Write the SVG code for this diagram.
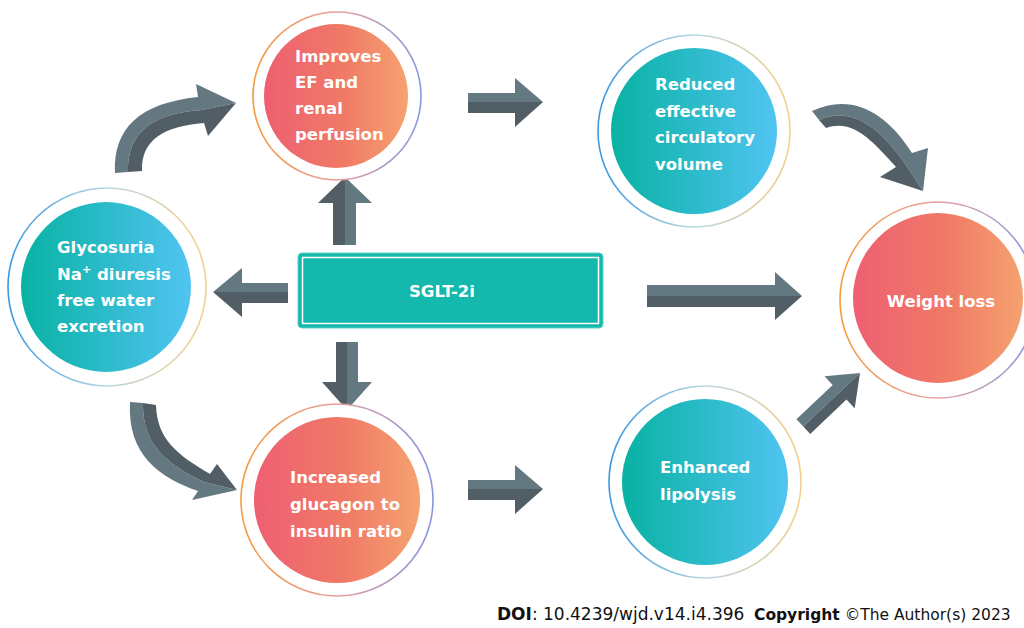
<svg xmlns="http://www.w3.org/2000/svg" width="1024" height="628" viewBox="0 0 1024 628">
<defs>
<linearGradient id="gRed" x1="0" y1="0" x2="1" y2="0"><stop offset="0" stop-color="#ee5f72"/><stop offset="0.55" stop-color="#f07a66"/><stop offset="1" stop-color="#f5a270"/></linearGradient>
<linearGradient id="gTeal" x1="0" y1="0" x2="1" y2="0"><stop offset="0" stop-color="#08b2a2"/><stop offset="1" stop-color="#50c4f2"/></linearGradient>
<linearGradient id="rRed" x1="0" y1="0" x2="1" y2="0"><stop offset="0" stop-color="#f59a3c"/><stop offset="0.5" stop-color="#e8a0a0"/><stop offset="1" stop-color="#8896e0"/></linearGradient>
<linearGradient id="rTeal" x1="0" y1="0" x2="1" y2="0"><stop offset="0" stop-color="#3c98e0"/><stop offset="0.5" stop-color="#b8d8e0"/><stop offset="1" stop-color="#f6cf8a"/></linearGradient>
<style>
.ringR{fill:#fff;stroke:url(#rRed);stroke-width:1.6}
.ringT{fill:#fff;stroke:url(#rTeal);stroke-width:1.6}
.fillR{fill:url(#gRed)}
.fillT{fill:url(#gTeal)}
.lbl{font-family:"DejaVu Sans",Verdana,sans-serif;font-weight:bold;font-size:16.5px;fill:#fff}
.lt{fill:#637880}
.dk{fill:#515e65}
.doi{font-family:"DejaVu Sans",Verdana,sans-serif;font-size:17px;fill:#111}
</style>
</defs>
<rect width="1024" height="628" fill="#fff"/>

<g id="connectors">
  <path class="lt" d="M115,173 C113,128 140,103 198,97 L196,84 L236,103 L202,110 C152,113 127,133 128,172 Z"/>
  <path class="dk" d="M128,172 C127,133 152,113 202,110 L236,103 L208,136 L204,123 C164,126 141,140 142,171 Z"/>
  <path class="lt" d="M130,402 C127,455 160,478 198,491 L192,500 L237,490 L204,482 C168,465 142,445 143,403 Z"/>
  <path class="dk" d="M143,403 C142,445 168,465 204,482 L237,490 L217,464 L210,474 C178,455 157,440 156,405 Z"/>
  <path class="lt" d="M812,111 C850,93 885,110 912,153 L928,148 L923,191 L904,162 C878,125 850,106 819,120 Z"/>
  <path class="dk" d="M819,120 C850,106 878,125 904,162 L923,191 L880,177 L896,167 C870,138 852,119 826,128 Z"/>
  <path class="lt" d="M468,93 L515,93 L515,78 L543,102 L468,102 Z"/>
  <path class="dk" d="M468,102 L543,102 L515,127 L515,113 L468,113 Z"/>
  <path class="lt" d="M468,480 L515,480 L515,465 L543,489 L468,489 Z"/>
  <path class="dk" d="M468,489 L543,489 L515,514 L515,500 L468,500 Z"/>
  <path class="dk" d="M333,245 L333,203 L318,203 L345,177 L345,245 Z"/>
  <path class="lt" d="M345,245 L345,177 L372,203 L356,203 L356,245 Z"/>
  <path class="lt" d="M288,283 L242,283 L242,268 L213,292 L288,292 Z"/>
  <path class="dk" d="M288,292 L213,292 L242,317 L242,303 L288,303 Z"/>
  <path class="dk" d="M336,342 L336,382 L322,382 L347,410 L347,342 Z"/>
  <path class="lt" d="M347,342 L347,410 L372,382 L358,382 L358,342 Z"/>
  <path class="lt" d="M647,285 L775,285 L775,272 L802,296 L647,296 Z"/>
  <path class="dk" d="M647,296 L802,296 L775,320 L775,307 L647,307 Z"/>
  <path class="lt" d="M796.4,419.3 L832.7,384.9 L824.5,376.2 L860,373 L803.3,426.6 Z"/>
  <path class="dk" d="M803.3,426.6 L860,373 L854.7,408.2 L846.5,399.5 L810.2,433.9 Z"/>
</g>

<g id="node-improves">
  <circle class="ringR" cx="337" cy="96" r="84"/>
  <circle class="fillR" cx="336" cy="96" r="72"/>
  <text class="lbl"><tspan x="295" y="62">Improves</tspan><tspan x="295" y="88">EF and</tspan><tspan x="295" y="114">renal</tspan><tspan x="295" y="140">perfusion</tspan></text>
</g>

<g id="node-reduced">
  <circle class="ringT" cx="694" cy="131" r="96"/>
  <circle class="fillT" cx="694" cy="131" r="83"/>
  <text class="lbl"><tspan x="655" y="90">Reduced</tspan><tspan x="655" y="117">effective</tspan><tspan x="655" y="143">circulatory</tspan><tspan x="655" y="170">volume</tspan></text>
</g>

<g id="node-glycosuria">
  <circle class="ringT" cx="107" cy="287" r="99"/>
  <circle class="fillT" cx="106" cy="287" r="85"/>
  <text class="lbl"><tspan x="57" y="253">Glycosuria</tspan><tspan x="57" y="280">Na<tspan font-size="11px" dy="-7">+</tspan><tspan dy="7"> diuresis</tspan></tspan><tspan x="57" y="306">free water</tspan><tspan x="57" y="332">excretion</tspan></text>
</g>

<g id="node-sglt">
  <rect x="298" y="253" width="305" height="75" rx="4" fill="#14b8ac" stroke="#5fd0c8" stroke-width="1"/>
  <rect x="302.5" y="257.5" width="296" height="66" fill="none" stroke="#fff" stroke-width="1.5"/>
  <text class="lbl" x="442" y="297" text-anchor="middle">SGLT-2i</text>
</g>

<g id="node-weightloss">
  <circle class="ringR" cx="938" cy="300" r="98"/>
  <circle class="fillR" cx="938" cy="298" r="85"/>
  <text class="lbl" x="941" y="307" text-anchor="middle">Weight loss</text>
</g>

<g id="node-increased">
  <circle class="ringR" cx="337" cy="500" r="96"/>
  <circle class="fillR" cx="337" cy="500" r="83"/>
  <text class="lbl"><tspan x="290" y="483">Increased</tspan><tspan x="290" y="510">glucagon to</tspan><tspan x="290" y="537">insulin ratio</tspan></text>
</g>

<g id="node-enhanced">
  <circle class="ringT" cx="705" cy="482" r="96"/>
  <circle class="fillT" cx="705" cy="482" r="83"/>
  <text class="lbl"><tspan x="660" y="473">Enhanced</tspan><tspan x="660" y="500">lipolysis</tspan></text>
</g>

<text class="doi" x="497" y="620"><tspan font-weight="bold">DOI</tspan>: 10.4239/wjd.v14.i4.396</text>
<text class="doi" x="754" y="620" font-size="15.5px" style="font-size:15.5px"><tspan font-weight="bold">Copyright</tspan> ©The Author(s) 2023</text>
</svg>
